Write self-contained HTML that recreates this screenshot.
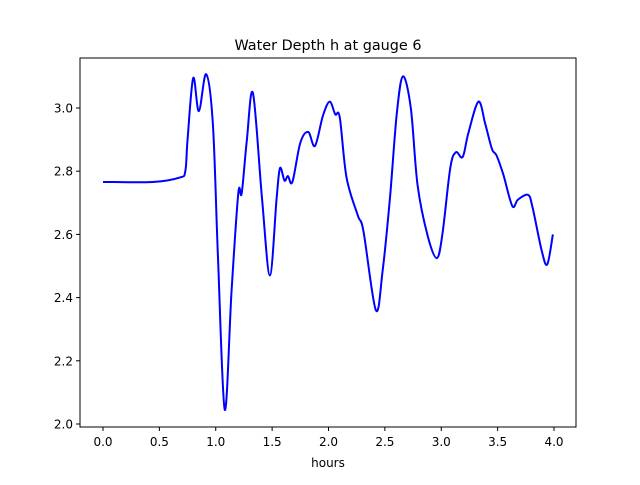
<!DOCTYPE html>
<html><head><meta charset="utf-8"><style>
body{margin:0;background:#fff;}
svg text{font-family:"DejaVu Sans","Liberation Sans",sans-serif;fill:#000;}
</style></head><body>
<svg id="chart" width="640" height="480" xmlns="http://www.w3.org/2000/svg">
<rect width="640" height="480" fill="#fff"/>
<text x="328" y="50" font-size="14.4" text-anchor="middle">Water Depth h at gauge 6</text>
<g id="ticks"></g>
<path id="line" fill="none" stroke="#0000ff" stroke-width="2" stroke-linejoin="round"/>
<rect x="80" y="58" width="496" height="369" fill="none" stroke="#000" stroke-width="1"/>
<text x="328" y="467" font-size="12" text-anchor="middle">hours</text>
</svg>
<script>
const times=[0,0.44,0.68,0.73,0.75,0.80,0.85,0.915,0.975,1.02,1.08,1.14,1.20,1.23,1.275,1.33,1.41,1.48,1.54,1.57,1.61,1.64,1.68,1.75,1.82,1.88,1.95,2.01,2.06,2.10,2.16,2.26,2.31,2.42,2.48,2.545,2.605,2.66,2.73,2.79,2.88,2.96,3.01,3.08,3.13,3.19,3.24,3.33,3.39,3.45,3.49,3.55,3.63,3.68,3.77,3.81,3.89,3.94,3.99];
const depths=[2.766,2.766,2.78,2.80,2.90,3.095,2.99,3.107,2.946,2.525,2.045,2.42,2.73,2.73,2.895,3.047,2.715,2.47,2.715,2.81,2.77,2.785,2.766,2.89,2.924,2.88,2.975,3.02,2.98,2.97,2.78,2.66,2.61,2.36,2.485,2.715,2.98,3.10,3.0,2.756,2.595,2.525,2.60,2.81,2.86,2.845,2.92,3.02,2.95,2.87,2.85,2.79,2.69,2.71,2.725,2.685,2.55,2.505,2.60];
const xTicks=[0,0.5,1,1.5,2,2.5,3,3.5,4];
const xTickLabels=["0.0","0.5","1.0","1.5","2.0","2.5","3.0","3.5","4.0"];
const yTicks=[2.0,2.2,2.4,2.6,2.8,3.0];
const yTickLabels=["2.0","2.2","2.4","2.6","2.8","3.0"];
const X=t=>103+112.75*t;
const Y=h=>424-316*(h-2);
const NS="http://www.w3.org/2000/svg";
const g=document.getElementById('ticks');
xTicks.forEach((t,i)=>{
 const l=document.createElementNS(NS,'line');
 
 
 l.setAttribute('x1',X(t));l.setAttribute('x2',X(t));l.setAttribute('y1',427);l.setAttribute('y2',431);l.setAttribute('stroke','#000');
 g.appendChild(l);
 const tx=document.createElementNS(NS,'text');
 
 
 tx.setAttribute('x',X(t));tx.setAttribute('y',446);tx.setAttribute('font-size','12');tx.setAttribute('text-anchor','middle');
 tx.textContent=xTickLabels[i];g.appendChild(tx);
});
yTicks.forEach((h,i)=>{
 const l=document.createElementNS(NS,'line');
 
 
 l.setAttribute('x1',76);l.setAttribute('x2',80);l.setAttribute('y1',Y(h));l.setAttribute('y2',Y(h));l.setAttribute('stroke','#000');
 g.appendChild(l);
 const tx=document.createElementNS(NS,'text');
 
 
 tx.setAttribute('x',73);tx.setAttribute('y',Y(h)+4.5);tx.setAttribute('font-size','12');tx.setAttribute('text-anchor','end');
 tx.textContent=yTickLabels[i];g.appendChild(tx);
});
const P=times.map((t,i)=>[X(t),Y(depths[i])]);
let d='M'+P[0][0]+','+P[0][1];
for(let i=0;i<P.length-1;i++){
 const p0=P[Math.max(0,i-1)],p1=P[i],p2=P[i+1],p3=P[Math.min(P.length-1,i+2)];
 const c1=[p1[0]+(p2[0]-p0[0])/6,p1[1]+(p2[1]-p0[1])/6];
 const c2=[p2[0]-(p3[0]-p1[0])/6,p2[1]-(p3[1]-p1[1])/6];
 d+=` C${c1[0]},${c1[1]} ${c2[0]},${c2[1]} ${p2[0]},${p2[1]}`;
}
document.getElementById('line').setAttribute('d',d);
</script>
</body></html>
